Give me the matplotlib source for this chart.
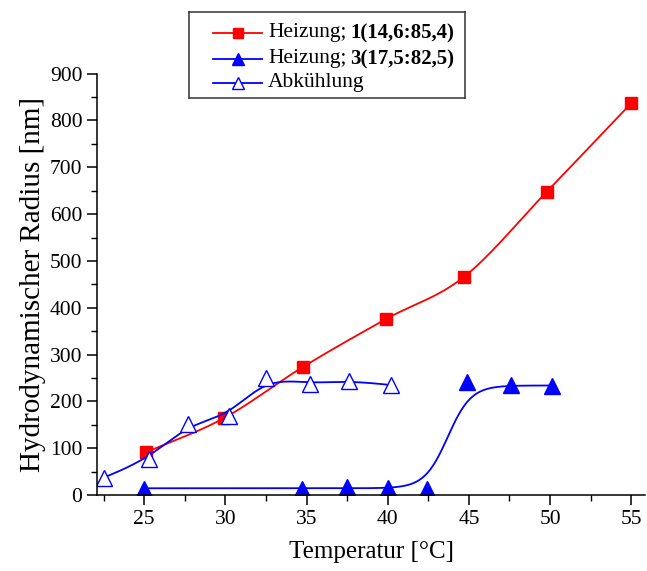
import numpy as np
import matplotlib
matplotlib.use("Agg")
import matplotlib.pyplot as plt
from matplotlib.ticker import MultipleLocator

plt.rcParams['font.family'] = ['Liberation Serif', 'DejaVu Serif']

# Heizung 1(14,6:85,4)
t_heat1 = [25.1, 29.9, 34.8, 39.9, 44.7, 49.8, 55.0]
r_heat1 = [91, 164, 274, 376, 466, 648, 837]

# Heizung 3(17,5:82,5)
t_heat3 = [25.0, 34.7, 37.5, 40.0, 42.4, 44.9, 47.6, 50.1]
r_heat3 = [14, 14, 18, 16, 13, 242, 236, 232]

# Abkuehlung
t_cool = [22.5, 25.3, 27.7, 30.2, 32.5, 35.2, 37.6, 40.2]
r_cool = [37, 78, 151, 169, 250, 238, 244, 235]

# Boltzmann fit for Heizung 3 (A1, A2, x0, dx)
fit3 = (14.5, 234.0, 43.7, 0.72)

labels_plain = ["Heizung;", "Heizung;", "Abkühlung"]
labels_bold = ["1(14,6:85,4)", "3(17,5:82,5)", ""]


def catmull_rom(x, y, n=30):
    x = np.asarray(x, float); y = np.asarray(y, float)
    px = np.concatenate([[2*x[0]-x[1]], x, [2*x[-1]-x[-2]]])
    py = np.concatenate([[2*y[0]-y[1]], y, [2*y[-1]-y[-2]]])
    xs, ys = [], []
    t = np.linspace(0, 1, n)
    for i in range(1, len(px)-2):
        for p, out in ((px, xs), (py, ys)):
            p0, p1, p2, p3 = p[i-1], p[i], p[i+1], p[i+2]
            out.append(0.5*((2*p1) + (-p0+p2)*t + (2*p0-5*p1+4*p2-p3)*t**2
                            + (-p0+3*p1-3*p2+p3)*t**3))
    return np.concatenate(xs), np.concatenate(ys)


def bspline(x, y, n=30):
    # clamped uniform cubic B-spline with the data as control points
    x = np.asarray(x, float); y = np.asarray(y, float)
    px = np.concatenate([[x[0]]*2, x, [x[-1]]*2])
    py = np.concatenate([[y[0]]*2, y, [y[-1]]*2])
    t = np.linspace(0, 1, n)
    b0 = (1-t)**3/6
    b1 = (3*t**3 - 6*t**2 + 4)/6
    b2 = (-3*t**3 + 3*t**2 + 3*t + 1)/6
    b3 = t**3/6
    xs, ys = [], []
    for i in range(len(px)-3):
        xs.append(b0*px[i] + b1*px[i+1] + b2*px[i+2] + b3*px[i+3])
        ys.append(b0*py[i] + b1*py[i+1] + b2*py[i+2] + b3*py[i+3])
    return np.concatenate(xs), np.concatenate(ys)


W, H = 647, 571
fig = plt.figure(figsize=(W/100, H/100), dpi=100)
ax = fig.add_axes([0.150, 0.133, 0.847, 0.738])

lw = 1.3
cx, cy = catmull_rom(t_heat1, r_heat1)
ax.plot(cx, cy, color='red', lw=lw)
ax.plot(t_heat1, r_heat1, ls='none', marker='s', ms=9, color='red')

A1, A2, x0, dx = fit3
tt = np.linspace(t_heat3[0], t_heat3[-1], 300)
ax.plot(tt, A2 + (A1 - A2)/(1 + np.exp((tt - x0)/dx)), color='blue', lw=lw)
ax.plot(t_heat3, r_heat3, ls='none', marker='^', ms=11.5, color='blue')

bx, by = bspline(t_cool, r_cool)
ax.plot(bx, by, color='blue', lw=lw)
ax.plot(t_cool, r_cool, ls='none', marker='^', ms=11, mfc='white', mec='blue', mew=1.0)

ax.set_xlim(22.1, 55.85)
ax.set_ylim(0, 900)
ax.xaxis.set_major_locator(MultipleLocator(5))
ax.xaxis.set_minor_locator(MultipleLocator(2.5))
ax.yaxis.set_major_locator(MultipleLocator(100))
ax.yaxis.set_minor_locator(MultipleLocator(50))
ax.tick_params(which='major', direction='out', length=7.5, width=1.1, labelsize=15.5, pad=3)
ax.tick_params(which='minor', direction='out', length=4.5, width=1.0)
ax.spines['top'].set_visible(False)
ax.spines['right'].set_visible(False)
ax.spines['left'].set_linewidth(1.1)
ax.spines['bottom'].set_linewidth(1.1)
ax.set_xlabel("Temperatur [°C]", fontsize=18, labelpad=9)
ax.set_ylabel("Hydrodynamischer Radius [nm]", fontsize=21, labelpad=3)

# legend box drawn by hand (pixel coordinates inside a small axes)
lx0, ly0, lx1, ly1 = 189, 12, 465, 98
lg = fig.add_axes([lx0/W, 1 - ly1/H, (lx1-lx0)/W, (ly1-ly0)/H])
lg.set_xlim(lx0, lx1)
lg.set_ylim(ly1, ly0)
lg.set_xticks([]); lg.set_yticks([])
for s in lg.spines.values():
    s.set_linewidth(1.1)
    s.set_color('#333333')

rows = [33, 59, 83]
styles = [dict(color='red', marker='s', ms=7.5),
          dict(color='blue', marker='^', ms=9),
          dict(color='blue', marker='^', ms=9, mfc='white', mec='blue')]
fig.canvas.draw()
for yy, st, tp, tb in zip(rows, styles, labels_plain, labels_bold):
    lg.plot([213, 262], [yy, yy], lw=lw, color=st['color'])
    lg.plot([237.5], [yy], ls='none', **st)
    t = lg.text(268, yy, tp, fontsize=15.5, va='center', ha='left')
    if tb:
        bb = t.get_window_extent(renderer=fig.canvas.get_renderer())
        lg.text(bb.x1 + 4, bb.y0 + bb.height/2, tb, fontsize=15, fontweight='bold',
                va='center', ha='left', transform=None)

fig.savefig("out.png", dpi=100)
